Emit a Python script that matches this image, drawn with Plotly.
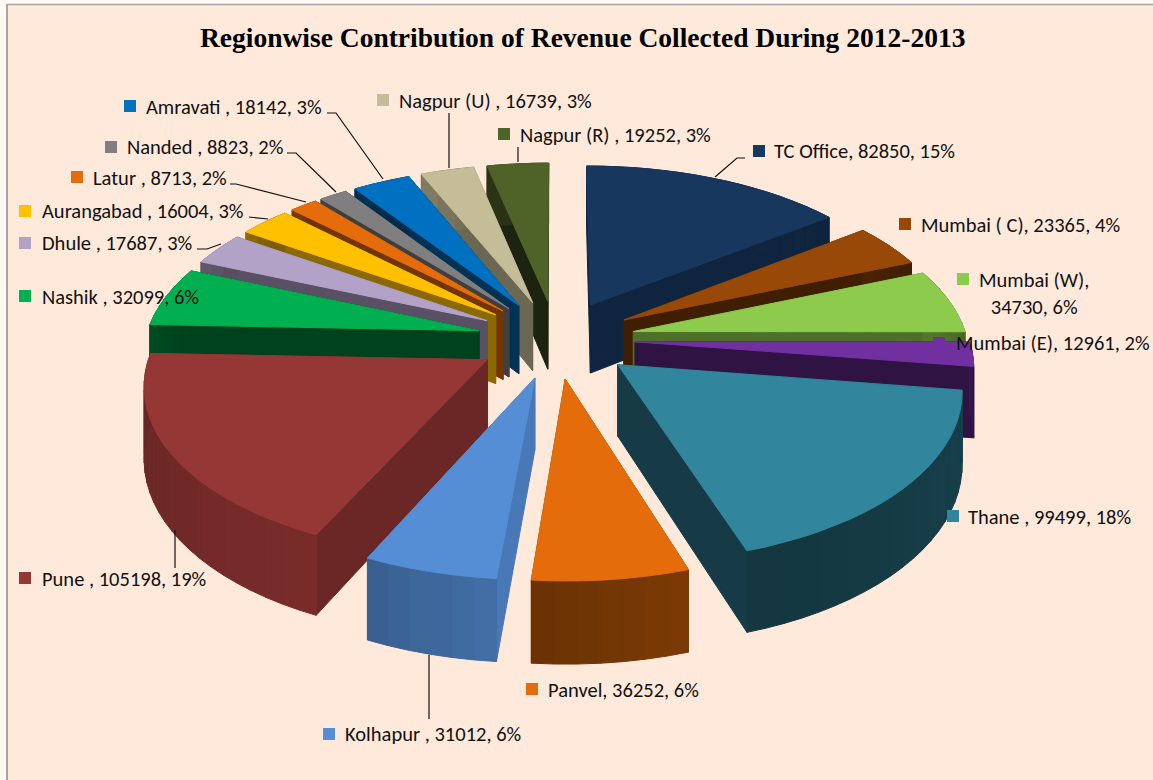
import math
import plotly.graph_objects as go

categories = ["TC Office", "Mumbai ( C)", "Mumbai (W)", "Mumbai (E)", "Thane ", "Panvel", "Kolhapur ", "Pune ",
              "Nashik ", "Dhule ", "Aurangabad ", "Latur ", "Nanded ", "Amravati ", "Nagpur (U) ", "Nagpur (R) "]
values = [82850, 23365, 34730, 12961, 99499, 36252, 31012, 105198,
          32099, 17687, 16004, 8713, 8823, 18142, 16739, 19252]
percents = [15, 4, 6, 2, 18, 6, 6, 19, 6, 3, 3, 2, 2, 3, 3, 3]
colors = ["#17375E", "#984807", "#8CCB4B", "#7030A0", "#31859C", "#E46C0A", "#558ED5", "#953735",
          "#00B050", "#B3A2C7", "#FFC000", "#E46C0A", "#7F7F7F", "#0070C0", "#C4BD97", "#4F6228"]
rim_shade = [.7, .45, .55, .45, .45, .5, .72, .75, .4, .5, .5, .5, .5, .4, .6, .5]
radial_shade = [.68, .42, .55, .42, .45, .6, .85, .72, .38, .5, .55, .5, .5, .45, .55, .36]

# 3D view parameters of the exploded pie
CX, CY, AX, AY, PERSP, DEPTH, RADIUS, PULL = 556, 339, 417, 206, 0.16, 70, 0.80, 0.19
BG = "#FEE9DB"


def shade(c, f):
    r, g, b = int(c[1:3], 16), int(c[3:5], 16), int(c[5:7], 16)
    return f"rgb({int(r*f)},{int(g*f)},{int(b*f)})"


def project(u, v, low=False):
    s = 1 / (1 + PERSP * v)
    return CX + AX * u * s, CY - AY * v * s + (DEPTH * s if low else 0)


def poly(fig, pts, color):
    fig.add_trace(go.Scatter(x=[p[0] for p in pts] + [pts[0][0]], y=[p[1] for p in pts] + [pts[0][1]],
                             mode="lines", fill="toself", fillcolor=color,
                             line=dict(color=color, width=1), hoverinfo="skip", showlegend=False))


fig = go.Figure()
total = sum(values)
slices = []
acc = 0.0
for i, val in enumerate(values):
    a0, a1 = acc / total * 2 * math.pi, (acc + val) / total * 2 * math.pi
    acc += val
    slices.append((i, a0, a1))
slices.sort(key=lambda t: -math.cos((t[1] + t[2]) / 2))

for i, a0, a1 in slices:
    col = colors[i]
    mid = (a0 + a1) / 2
    ou, ov = PULL * math.sin(mid), PULL * math.cos(mid)
    n = max(3, int((a1 - a0) / math.radians(3)))
    angs = [a0 + (a1 - a0) * k / n for k in range(n + 1)]
    rim = [(ou + RADIUS * math.sin(a), ov + RADIUS * math.cos(a)) for a in angs]
    # radial faces
    for e in (rim[0], rim[-1]):
        poly(fig, [project(ou, ov), project(*e), project(*e, True), project(ou, ov, True)],
             shade(col, radial_shade[i]))
    # outer rim, with gradient
    for k in range(n):
        t = k / n
        poly(fig, [project(*rim[k]), project(*rim[k + 1]), project(*rim[k + 1], True), project(*rim[k], True)],
             shade(col, rim_shade[i] * (1.08 - 0.16 * t)))
    # top
    poly(fig, [project(ou, ov)] + [project(*p) for p in rim], col)

# label placement (pixels of the page)
label_x = [772, 919, 976, 954, 966, 546, 343, 40, 40, 40, 40, 91, 125, 144, 397, 518]
label_y = [151, 225, 280, 343, 517, 690, 734, 579, 297, 243, 211, 178, 147, 107, 101, 135]
marker_x = [759, 905, 963, 939, 953, 532, 329, 25, 25, 25, 25, 77, 111, 130, 383, 504]
marker_y = [151, 224, 279, 343, 516, 689, 734, 578, 296, 243, 211, 177, 147, 106, 100, 134]
leaders = [
    [(715, 177), (737, 158), (745, 158)],
    [(175, 530), (175, 568)],
    [(429, 655), (429, 719)],
    [(221, 244), (207, 249), (197, 249)],
    [(268, 219), (249, 217)],
    [(306, 202), (236, 184), (230, 184)],
    [(336, 192), (296, 153), (287, 153)],
    [(383, 179), (336, 113), (327, 113)],
    [(449, 168), (449, 113)],
    [(518, 162), (518, 147)],
]
for ln in leaders:
    fig.add_trace(go.Scatter(x=[p[0] for p in ln], y=[p[1] for p in ln], mode="lines",
                             line=dict(color="#111111", width=1.2), hoverinfo="skip", showlegend=False))

fig.add_trace(go.Scatter(x=marker_x, y=marker_y, mode="markers",
                         marker=dict(symbol="square", size=12, color=colors, line=dict(width=0)),
                         hoverinfo="skip", showlegend=False))

FONT = "Carlito, Lato, 'Open Sans', sans-serif"
ann = []
for i, name in enumerate(categories):
    text = f"{name}, {values[i]}, {percents[i]}%"
    if name == "Mumbai (W)":
        text = f"{name},<br>{values[i]}, {percents[i]}%"
        ann.append(dict(x=1034, y=293, text=text, showarrow=False, xanchor="center", yanchor="middle",
                        align="center", font=dict(family=FONT, size=20.5, color="#111111"),
                        xref="x", yref="y"))
        continue
    ann.append(dict(x=label_x[i], y=label_y[i], text=text, showarrow=False, xanchor="left", yanchor="middle",
                    font=dict(family=FONT, size=20.5, color="#111111"), xref="x", yref="y"))
ann.append(dict(x=582, y=37, text="<b>Regionwise Contribution of Revenue Collected During 2012-2013</b>",
                showarrow=False, xanchor="center", yanchor="middle", xref="x", yref="y",
                font=dict(family="Liberation Serif", size=27.5, color="#000000")))

fig.update_layout(
    width=1153, height=780, margin=dict(l=0, r=0, t=0, b=0), paper_bgcolor="white", plot_bgcolor=BG,
    xaxis=dict(range=[0, 1153], visible=False, fixedrange=True),
    yaxis=dict(range=[780, 0], visible=False, fixedrange=True),
    annotations=ann, showlegend=False,
    shapes=[dict(type="rect", xref="x", yref="y", x0=-2, x1=6, y0=-2, y1=782, fillcolor="#FFF8F3",
                 line=dict(width=0), layer="above"),
            dict(type="rect", xref="x", yref="y", x0=-2, x1=1155, y0=-2, y1=4, fillcolor="#FFF8F3",
                 line=dict(width=0), layer="above"),
            dict(type="line", xref="x", yref="y", x0=7, x1=7, y0=4, y1=782, line=dict(color="#A6A6A6", width=2),
                 layer="above"),
            dict(type="line", xref="x", yref="y", x0=7, x1=1155, y0=4.5, y1=4.5,
                 line=dict(color="#A6A6A6", width=1.5), layer="above")],
)
fig.write_html("out.html", config={"displayModeBar": False},
               post_script="document.body.style.margin='0';document.body.style.overflow='hidden';")
